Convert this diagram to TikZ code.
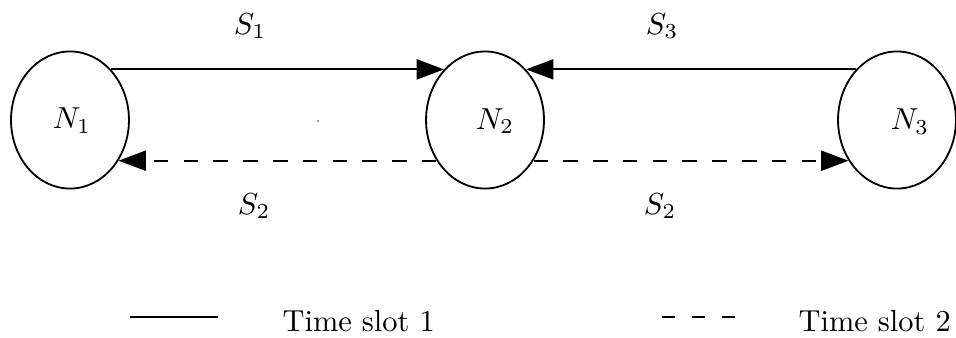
\documentclass[tikz,border=0pt]{standalone}
\usetikzlibrary{shapes.geometric,arrows.meta}
\begin{document}
\begin{tikzpicture}[x=0.329pt,y=-0.329pt,
  station/.style={draw,ellipse,line width=0.6pt,inner sep=0pt,minimum width=38.8pt,minimum height=45.1pt},
  link/.style={line width=0.6pt,-{Triangle[length=9pt,width=6.6pt]}},
  slottwo/.style={dash pattern=on 4.8pt off 5pt},
  lbl/.style={anchor=base,inner sep=0pt}]
\useasboundingbox (0,0) rectangle (956,337);
\node[station] (N1) at (70,120) {};
\node[station] (N2) at (485,120) {};
\node[station] (N3) at (897,120) {};
\node[lbl] (t1) at (72,128.5) {$N_1$};
\node[lbl] (t2) at (495,129) {$N_2$};
\node[lbl] (t3) at (910,129.5) {$N_3$};
% time slot 1
\draw[link] (N1.51) -- (N2.129);
\draw[link] (N3.129) -- (N2.51);
% time slot 2
\draw[link,slottwo] (N2.220) -- (N1.320);
\draw[link,slottwo] (N2.320) -- (N3.220);
% labels
\node[lbl] (s1) at (250,34) {$S_1$};
\node[lbl] (s3) at (662,34) {$S_3$};
\node[lbl] (s2a) at (254,214) {$S_2$};
\node[lbl] (s2b) at (660,214) {$S_2$};
\fill[gray] (318,121) circle (0.35pt);
% legend
\coordinate (l1a) at (130,317);
\coordinate (l1b) at (218,317);
\draw[line width=0.6pt] (l1a) -- (l1b);
\node[anchor=base west,inner sep=0pt] (leg1) at (282,331.5) {Time slot 1};
\coordinate (l2a) at (662,317);
\coordinate (l2b) at (737,317);
\draw[line width=0.6pt,dash pattern=on 4.4pt off 5.4pt] (l2a) -- (l2b);
\node[anchor=base west,inner sep=0pt] (leg2) at (798,331.5) {Time slot 2};
\end{tikzpicture}
\end{document}
